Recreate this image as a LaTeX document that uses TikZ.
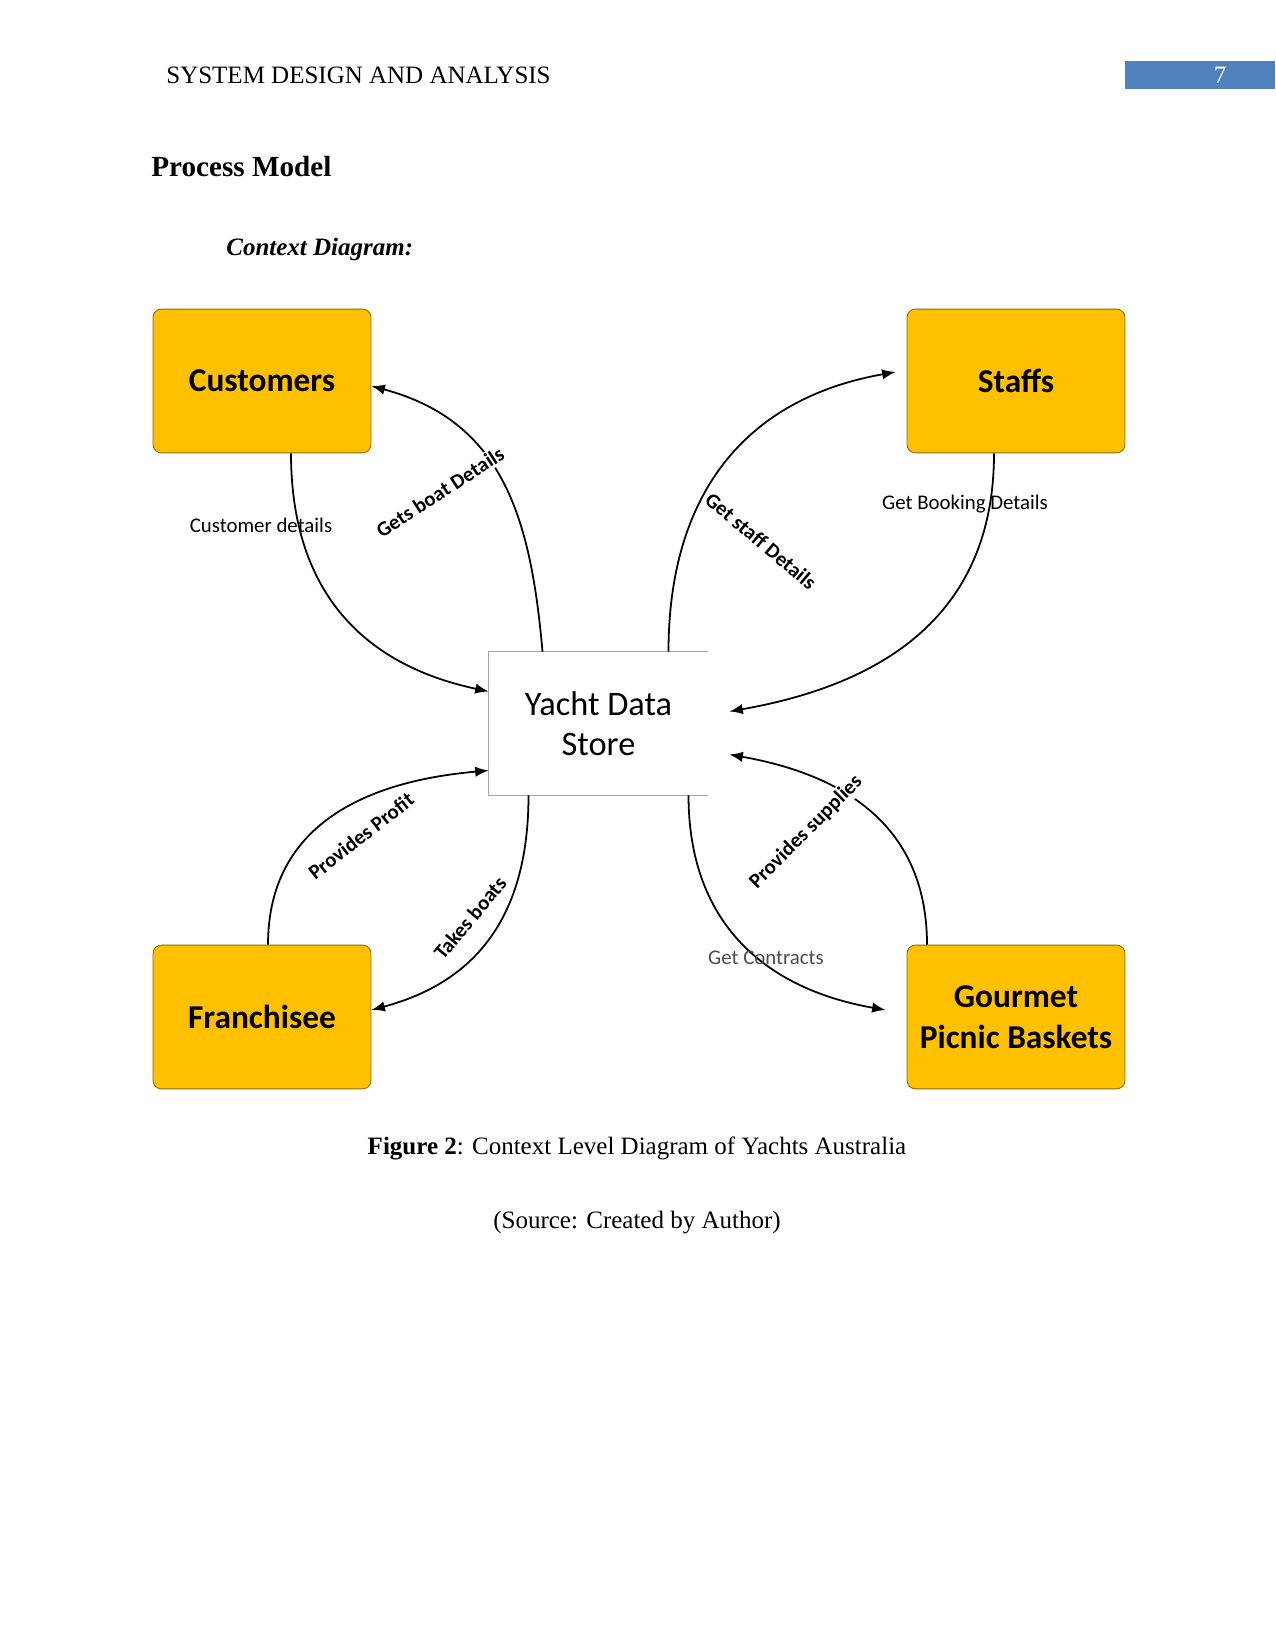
\documentclass[tikz,border=0pt]{standalone}
\usepackage{fontspec}
\setmainfont{Liberation Serif}
\newfontfamily\diagfont{Carlito}
\usetikzlibrary{arrows.meta,calc}
\definecolor{boxyellow}{HTML}{FFC000}
\definecolor{boxedge}{HTML}{8C6A00}
\definecolor{headblue}{HTML}{4F81BD}

\begin{document}
\begin{tikzpicture}[x=0.48pt, y=0.48pt,
    entity/.style={draw=boxedge, fill=boxyellow, rounded corners=4pt, line width=0.4pt,
                   minimum width=104.6pt, minimum height=69pt, align=center,
                   font=\diagfont\bfseries\fontsize{16}{19.5}\selectfont},
    store/.style={minimum width=105pt, minimum height=68.6pt, align=center,
                  font=\diagfont\fontsize{16.5}{19.5}\selectfont},
    flow/.style={-{Latex[length=6.5pt,width=5pt]}, line width=0.85pt, looseness=1.1},
    lbl/.style={font=\diagfont\fontsize{10}{12}\selectfont, inner sep=1pt},
    blbl/.style={lbl, font=\diagfont\bfseries\fontsize{10}{12}\selectfont}]
  \useasboundingbox (0,0) rectangle (1275,-1650);

  % page header and headings
  \fill[headblue] (1125,-61) rectangle (1275,-89);
  \node[anchor=west, font=\fontsize{12}{14}\selectfont] (head) at (159,-75) {SYSTEM DESIGN AND ANALYSIS};
  \node[text=white, font=\fontsize{12}{14}\selectfont] (pageno) at (1220,-75) {7};
  \node[anchor=west, font=\bfseries\fontsize{14}{16}\selectfont] (title) at (144,-167) {Process Model};
  \node[anchor=west, font=\bfseries\itshape\fontsize{12}{14}\selectfont] (sub) at (219,-249) {Context Diagram:};

  % entities and data store
  \node[entity] (cust)  at (262,-381)  {Customers};
  \node[entity] (staff) at (1016,-381) {Staffs};
  \node[entity] (fran)  at (262,-1017) {Franchisee};
  \node[entity] (gour)  at (1016,-1017) {Gourmet\\Picnic Baskets};
  \node[store]  (yds)   at (598.5,-723.5) {Yacht Data\\Store};
  \draw[gray!70, line width=0.5pt] (yds.north east) -- (yds.north west) -- (yds.south west) -- (yds.south east);

  % data flows
  \draw[flow] ($(cust.south)+(29,0)$)   to[out=-90, in=168] ($(yds.west)+(0,32)$);
  \draw[flow] ($(yds.north)+(-56,0)$)   to[out=95, in=-15]  ($(cust.east)+(0,-5)$);
  \draw[flow] ($(yds.north)+(70,0)$)    to[out=90, in=190]  ($(staff.west)+(-11,9)$);
  \draw[flow] ($(staff.south)+(-22,0)$) to[out=-90, in=10]  ($(yds.east)+(21,12)$);
  \draw[flow] ($(fran.north)+(6,0)$)    to[out=90, in=185]  ($(yds.west)+(0,-47)$);
  \draw[flow] ($(yds.south)+(-70,0)$)   to[out=-90, in=15]  ($(fran.east)+(0,7)$);
  \draw[flow] ($(yds.south)+(90,0)$)    to[out=-90, in=170] ($(gour.west)+(-21,7)$);
  \draw[flow] ($(gour.north)+(-89,0)$)  to[out=90, in=-10]  ($(yds.east)+(21,-31)$);

  % flow labels
  \node[lbl]  (l-cust)  at (261,-525) {Customer details};
  \node[blbl, fill=white, rotate=33] (l-boat) at (440,-492) {Gets boat Details};
  \node[blbl, rotate=-40] (l-staff) at (761,-541) {Get staff Details};
  \node[lbl]  (l-book)  at (965,-504) {Get Booking Details};
  \node[blbl, rotate=38] (l-profit) at (361,-836) {Provides Profit};
  \node[blbl, rotate=50] (l-takes) at (470,-918) {Takes boats};
  \node[lbl, text=black!70] (l-contr) at (766,-958) {Get Contracts};
  \node[blbl, fill=white, rotate=45] (l-supp) at (806,-832) {Provides supplies};

  % caption
  \node[font=\fontsize{12}{14}\selectfont] (cap) at (637,-1148) {\textbf{Figure 2}: Context Level Diagram of Yachts Australia};
  \node[font=\fontsize{12}{14}\selectfont] (src) at (637,-1223) {(Source: Created by Author)};
\end{tikzpicture}
\end{document}
